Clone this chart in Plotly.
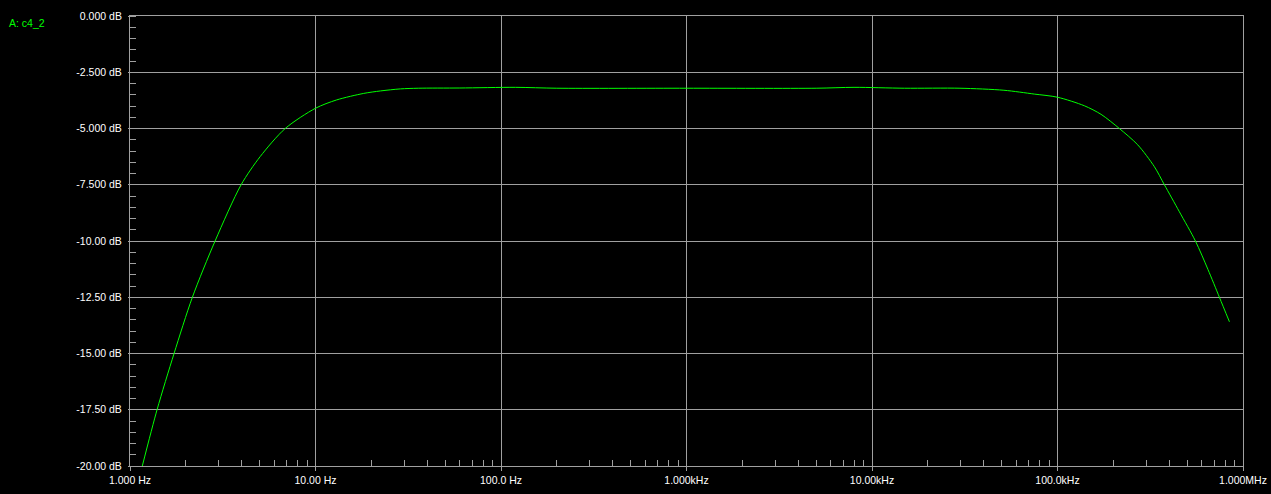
import plotly.graph_objects as go

# Frequency response (Hz, dB)
freq_hz = [1.165, 1.399, 1.728, 2.169, 2.875, 3.972, 5.03, 6.865,
           10.0, 13.0, 18.2, 22.4, 28.7, 35.8, 60.0, 120.0, 200.0, 1000.0, 5000.0,
           8000.0, 15000.0, 29800.0, 51400.0, 75000.0, 100000.0,
           139600.0, 171700.0, 215500.0, 271000.0, 333000.0, 376900.0, 454000.0, 554000.0,
           647000.0, 746000.0, 845000.0]
gain_db = [-20.0, -17.5, -15.0, -12.5, -10.0, -7.5, -6.25, -5.0,
           -4.10, -3.73, -3.44, -3.33, -3.24, -3.21, -3.20, -3.17, -3.21, -3.21, -3.21,
           -3.17, -3.21, -3.21, -3.30, -3.47, -3.61,
           -3.99, -4.37, -5.0, -5.73, -6.70, -7.5, -8.70, -10.0,
           -11.26, -12.5, -13.59]

x_major = [1, 10, 100, 1e3, 1e4, 1e5, 1e6]
x_labels = ["1.000 Hz", "10.00 Hz", "100.0 Hz", "1.000kHz", "10.00kHz", "100.0kHz", "1.000MHz"]
y_major = [0, -2.5, -5, -7.5, -10, -12.5, -15, -17.5, -20]
y_labels = ["0.000 dB", "-2.500 dB", "-5.000 dB", "-7.500 dB", "-10.00 dB",
            "-12.50 dB", "-15.00 dB", "-17.50 dB", "-20.00 dB"]
trace_label = "A: c4_2"

x_minor = [m * d for d in [1, 10, 100, 1e3, 1e4, 1e5] for m in range(2, 10)]
y_minor = [-0.5 * i for i in range(41)]

GRID = "#a0a0a0"
FONT = "Liberation Sans, Arial, sans-serif"

fig = go.Figure()
fig.add_trace(go.Scatter(x=freq_hz, y=gain_db, mode="lines",
                         line=dict(color="#00ff00", width=1, shape="spline", smoothing=0.8),
                         showlegend=False, hoverinfo="skip"))

fig.update_layout(
    width=1271, height=494, autosize=False,
    paper_bgcolor="black", plot_bgcolor="black",
    margin=dict(l=130, r=28, t=16, b=28, autoexpand=False),
    font=dict(family=FONT, size=10.5, color="white"),
    xaxis=dict(type="log", range=[0, 6], tickmode="array", tickvals=x_major, ticktext=x_labels,
               automargin=False,
               showgrid=True, gridcolor=GRID, gridwidth=1, zeroline=False,
               showline=True, linecolor=GRID, linewidth=1, mirror=True,
               ticks="outside", ticklen=4, tickcolor=GRID, tickwidth=1,
               ticklabelstandoff=0,
               tickfont=dict(family=FONT, size=10.5, color="white"),
               minor=dict(tickmode="array", tickvals=x_minor, ticks="inside", ticklen=6,
                          tickcolor=GRID, tickwidth=1, showgrid=False)),
    yaxis=dict(range=[-20, 0], tickmode="array", tickvals=y_major, ticktext=y_labels,
               automargin=False,
               showgrid=True, gridcolor=GRID, gridwidth=1, zeroline=False,
               showline=True, linecolor=GRID, linewidth=1, mirror=True,
               ticks="outside", ticklen=1, tickcolor=GRID, tickwidth=1,
               ticklabelstandoff=4,
               tickfont=dict(family=FONT, size=10.5, color="white"),
               minor=dict(tickmode="array", tickvals=y_minor, ticks="inside", ticklen=6,
                          tickcolor=GRID, tickwidth=1, showgrid=False)),
    annotations=[dict(text=trace_label, xref="paper", yref="paper",
                      x=-0.1105, y=0.984, xanchor="left", yanchor="middle",
                      showarrow=False, font=dict(family=FONT, size=10.5, color="#00ff00"))],
)

post = ("document.body.style.margin='0';document.body.style.padding='0';"
        "document.body.style.background='black';document.body.style.overflow='hidden';")
fig.write_html("out.html", post_script=post, config={"responsive": False, "displayModeBar": False})
